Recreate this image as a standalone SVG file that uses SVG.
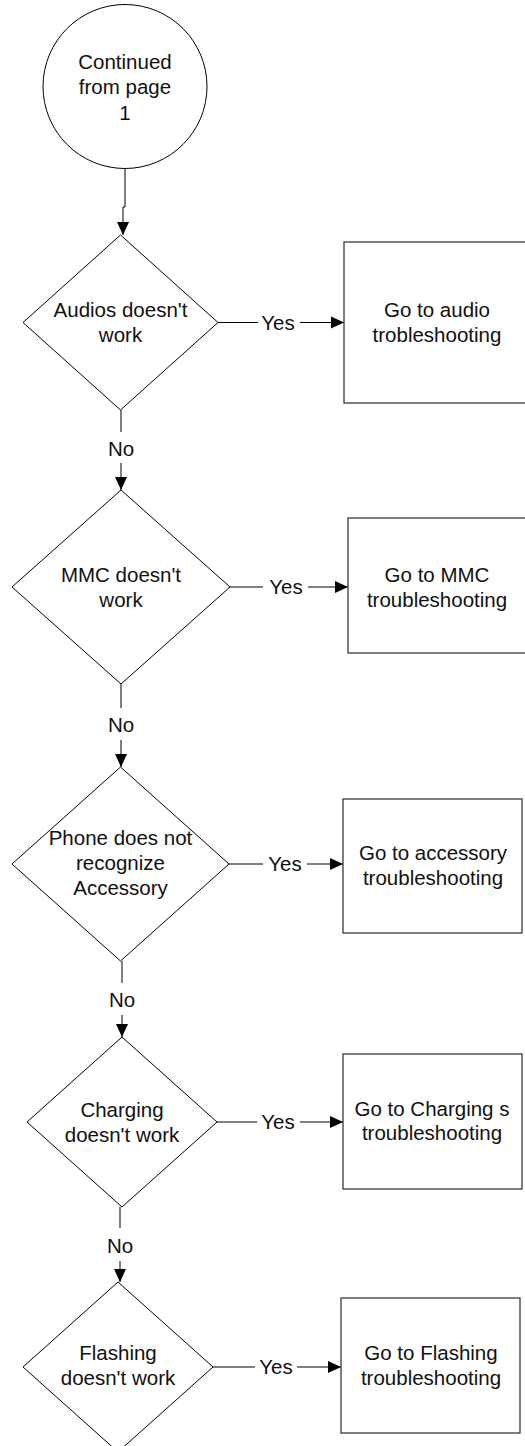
<svg xmlns="http://www.w3.org/2000/svg" width="525" height="1446" viewBox="0 0 525 1446">
<defs>
<marker id="ah" markerUnits="userSpaceOnUse" markerWidth="14" markerHeight="14" viewBox="0 0 14 14" refX="13" refY="7" orient="auto">
<path d="M0,1 L13,7 L0,13 Z" fill="#000"/>
</marker>
</defs>
<style>
.shape{fill:#fff;stroke:#000;stroke-width:1}
.box{fill:#fff;stroke:#3a3a3a;stroke-width:1.3}
.ln{fill:none;stroke:#000;stroke-width:1}
text{font-family:"Liberation Sans",Arial,sans-serif;font-size:20.5px;fill:#111;text-anchor:middle}
</style>
<rect width="525" height="1446" fill="#fff"/>
<g id="connectors">
<path class="ln" d="M125,168 V207 H123 V235" marker-end="url(#ah)"/>
<path class="ln" d="M218,322.5 H258"/><path class="ln" d="M300,322.5 H344" marker-end="url(#ah)"/>
<path class="ln" d="M121,410 V432"/><path class="ln" d="M121,463 V490" marker-end="url(#ah)"/>
<path class="ln" d="M230,587 H263"/><path class="ln" d="M308,587 H348" marker-end="url(#ah)"/>
<path class="ln" d="M121,684 V708"/><path class="ln" d="M121,740 V767" marker-end="url(#ah)"/>
<path class="ln" d="M229,864 H263"/><path class="ln" d="M307,864 H343" marker-end="url(#ah)"/>
<path class="ln" d="M122,961 V983"/><path class="ln" d="M122,1015 V1037" marker-end="url(#ah)"/>
<path class="ln" d="M217,1122 H257"/><path class="ln" d="M300,1122 H343" marker-end="url(#ah)"/>
<path class="ln" d="M120,1207 V1228"/><path class="ln" d="M120,1261 V1282" marker-end="url(#ah)"/>
<path class="ln" d="M213,1367 H255"/><path class="ln" d="M297,1367 H341" marker-end="url(#ah)"/>
<text x="278" y="330">Yes</text>
<text x="286" y="594">Yes</text>
<text x="285" y="871">Yes</text>
<text x="278" y="1129">Yes</text>
<text x="276" y="1374">Yes</text>
<text x="121" y="456">No</text>
<text x="121" y="732">No</text>
<text x="122" y="1007">No</text>
<text x="120" y="1253">No</text>
</g>
<g id="start">
<circle class="shape" cx="125" cy="86.5" r="82"/>
<text x="125" y="69">Continued</text>
<text x="125" y="94">from page</text>
<text x="125" y="120">1</text>
</g>
<g id="d1">
<polygon class="shape" points="120.5,235 218,322.5 120.5,410 23,322.5"/>
<text x="120.5" y="317">Audios doesn't</text>
<text x="120.5" y="342">work</text>
</g>
<g id="b1">
<rect class="box" x="344" y="242" width="190" height="161"/>
<text x="437" y="317">Go to audio</text>
<text x="437" y="342">trobleshooting</text>
</g>
<g id="d2">
<polygon class="shape" points="121,490 230,587 121,684 12,587"/>
<text x="121" y="582">MMC doesn't</text>
<text x="121" y="607">work</text>
</g>
<g id="b2">
<rect class="box" x="348" y="518" width="190" height="135"/>
<text x="437" y="582">Go to MMC</text>
<text x="437" y="607">troubleshooting</text>
</g>
<g id="d3">
<polygon class="shape" points="120.5,767 229,864 120.5,961 12,864"/>
<text x="120.5" y="845">Phone does not</text>
<text x="120.5" y="870">recognize</text>
<text x="120.5" y="895">Accessory</text>
</g>
<g id="b3">
<rect class="box" x="343" y="799" width="179" height="134"/>
<text x="433" y="860">Go to accessory</text>
<text x="433" y="885">troubleshooting</text>
</g>
<g id="d4">
<polygon class="shape" points="122,1037 217,1122 122,1207 27,1122"/>
<text x="122" y="1117">Charging</text>
<text x="122" y="1142">doesn't work</text>
</g>
<g id="b4">
<rect class="box" x="343" y="1054" width="179" height="135"/>
<text x="432" y="1116">Go to Charging s</text>
<text x="432" y="1140">troubleshooting</text>
</g>
<g id="d5">
<polygon class="shape" points="118,1282 213,1367 118,1452 23,1367"/>
<text x="118" y="1360">Flashing</text>
<text x="118" y="1385">doesn't work</text>
</g>
<g id="b5">
<rect class="box" x="341" y="1298" width="179" height="135"/>
<text x="431" y="1360">Go to Flashing</text>
<text x="431" y="1385">troubleshooting</text>
</g>
</svg>
